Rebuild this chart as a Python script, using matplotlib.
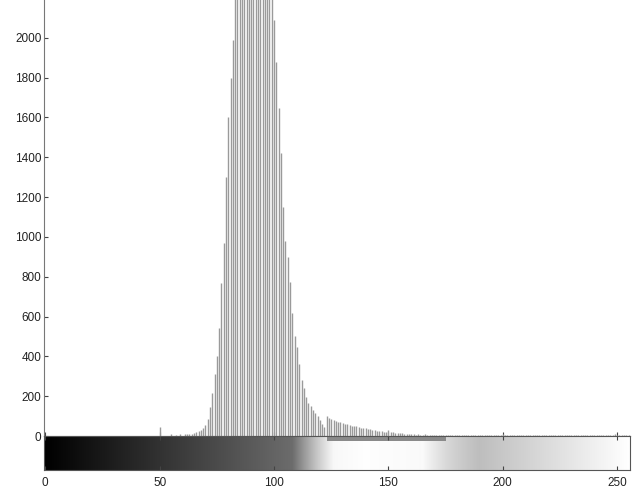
"""
Grey-level histogram (imhist style) with the grey ramp strip underneath.
"""

import numpy as np
import matplotlib
matplotlib.use("Agg")
import matplotlib.pyplot as plt
from matplotlib.patches import Rectangle

plt.rcParams["font.family"] = ["Liberation Sans", "DejaVu Sans"]

# counts per grey level 0..255 (peak is clipped in the original)
counts = [
    0, 0, 0, 0, 0, 0, 0, 0, 0, 0, 0, 0, 0, 0, 0, 0,
    0, 0, 0, 0, 0, 0, 0, 0, 0, 0, 0, 0, 0, 0, 0, 0,
    0, 0, 0, 0, 0, 0, 0, 0, 0, 0, 0, 0, 0, 0, 0, 0,
    0, 0, 45, 0, 0, 0, 0, 8, 0, 6, 0, 8, 0, 10, 8, 12,
    10, 15, 18, 25, 30, 40, 55, 85, 145, 215, 310, 400, 545, 770, 970, 1300,
    1600, 1800, 1990, 2250, 2500, 2800, 3100, 3350, 3550, 3700, 3750, 3700, 3550, 3350, 3100, 2900,
    2700, 2500, 2350, 2220, 2090, 1880, 1650, 1420, 1150, 980, 900, 775, 620, 500, 445, 360,
    280, 240, 195, 165, 150, 132, 115, 100, 80, 58, 45, 100, 92, 86, 80, 75,
    72, 68, 65, 62, 58, 55, 52, 50, 48, 45, 42, 40, 38, 35, 33, 30,
    28, 26, 25, 23, 22, 20, 30, 18, 18, 16, 15, 14, 14, 12, 11, 10,
    10, 8, 7, 8, 7, 7, 8, 7, 6, 7, 7, 6, 7, 6, 6, 7,
    5, 4, 6, 5, 4, 5, 6, 4, 5, 5, 4, 6, 5, 4, 5, 5,
    6, 4, 5, 5, 4, 5, 6, 5, 8, 4, 5, 5, 6, 4, 5, 5,
    4, 5, 6, 5, 4, 5, 5, 4, 6, 5, 4, 5, 5, 4, 6, 5,
    5, 4, 5, 6, 4, 5, 5, 4, 5, 6, 4, 5, 5, 4, 5, 5,
    4, 5, 6, 5, 4, 5, 5, 4, 6, 8, 5, 4, 5, 5, 4, 6,
]
levels = list(range(256))

y_ticks = list(range(0, 2001, 200))
x_ticks = [0, 50, 100, 150, 200, 250]

# washed-out patch on the ramp (photo glare in the original)
glare_x = [108, 118, 126, 140, 165, 176, 190]
glare_a = [0.0, 0.55, 0.95, 1.0, 0.95, 0.5, 0.0]

fig = plt.figure(figsize=(6.4, 4.93), dpi=100)
ax = fig.add_axes([0.069, 0.1156, 0.915, 0.8844])
cb = fig.add_axes([0.069, 0.0467, 0.915, 0.069])

ax.vlines(levels, 0, counts, color="#9a9a9a", linewidth=1.0)
ax.set_xlim(-0.5, 255.5)
ax.set_ylim(0, 2190)
ax.set_yticks(y_ticks)
ax.set_xticks(x_ticks)
ax.set_xticklabels([])
ax.tick_params(direction="in", length=3, labelsize=8.5, colors="#444444",
               labelcolor="#222222", pad=2)
for side in ("top", "right"):
    ax.spines[side].set_visible(False)
for side in ("left", "bottom"):
    ax.spines[side].set_color("#777777")

# grey ramp
ramp = np.array(levels, dtype=float)[None, :]
cb.imshow(ramp, cmap="gray", vmin=0, vmax=255, aspect="auto",
          extent=(-0.5, 255.5, 0, 1), interpolation="bilinear")
alpha = np.interp(np.arange(256), glare_x, glare_a)
glare = np.ones((1, 256, 4))
glare[0, :, 3] = alpha
cb.imshow(glare, aspect="auto", extent=(-0.5, 255.5, 0, 1), interpolation="bilinear")
cb.add_patch(Rectangle((123, 0.86), 52, 0.12, color="#8a8a8a", lw=0))
cb.set_xlim(-0.5, 255.5)
cb.set_ylim(0, 1)
cb.set_yticks([])
cb.set_xticks(x_ticks)
cb.tick_params(direction="in", length=3, top=True, labelsize=8.5,
               colors="#444444", labelcolor="#222222", pad=5)
for s in cb.spines.values():
    s.set_color("#555555")

fig.savefig("out.png", dpi=100)
